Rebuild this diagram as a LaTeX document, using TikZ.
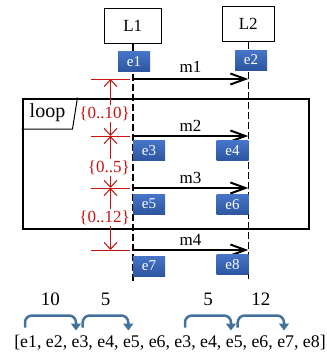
\documentclass[tikz,border=0pt]{standalone}
\usepackage{fontspec}
\setmainfont{Liberation Serif}
\usetikzlibrary{arrows.meta}
\definecolor{redx}{RGB}{200,20,20}
\definecolor{evtop}{RGB}{70,117,200}
\definecolor{evbot}{RGB}{45,85,160}
\definecolor{jmpblue}{RGB}{65,113,156}
\begin{document}
\begin{tikzpicture}[
	x=1pt, y=-1pt,
	font=\fontsize{17}{19}\selectfont,
	ll/.style={draw, line width=1.3pt, minimum width=57pt, minimum height=35pt, inner sep=0pt},
	life/.style={dash pattern=on 7pt off 3pt, line width=1.2pt},
	ev/.style={top color=evtop, bottom color=evbot, text=white, minimum width=32pt, minimum height=20pt, inner sep=0pt, font=\fontsize{15}{17}\selectfont},
	msg/.style={line width=2pt, -{Straight Barb[length=15pt,width=11pt]}},
	tk/.style={draw=redx, line width=1pt},
	dim/.style={redx, line width=1pt, -{Straight Barb[length=7pt,width=13pt]}},
	dl/.style={text=redx, fill=white, inner sep=1.5pt, anchor=east},
	jmp/.style={jmpblue, line width=2.5pt, rounded corners=7pt, -{Triangle[length=7pt,width=10pt]}},
	jl/.style={text=black, font=\fontsize{19}{21}\selectfont},
	]
\useasboundingbox (0,0) rectangle (327,354);
% lifelines
\node [ll] (L1) at (132.7,25.8) {L1};
\node [ll, minimum width=52pt] (L2) at (248.3,24.2) {L2};
\coordinate (L1end) at (132.7,281);
\coordinate (L2end) at (248.3,281);
\draw [life, line width=1.6pt] (L1.south) -- (L1end);
\draw [life] (L2.south) -- (L2end);
% loop frame
\node [draw, line width=2pt, minimum width=286pt, minimum height=130pt, inner sep=0pt] (frame) at (165.5,163.5) {};
\draw [line width=1pt] ([xshift=56pt]frame.north west) -- ([xshift=51pt,yshift=-31.5pt]frame.north west) -- ([yshift=-31.5pt]frame.north west);
\node [font=\fontsize{20}{22}\selectfont] (looplab) at ([xshift=26pt,yshift=-15.5pt]frame.north west) {loop};
% messages
\foreach \i/\y in {1/79,2/136,3/188,4/250} {
	\coordinate (s\i) at (132.7,\y);
	\coordinate (r\i) at (248.3,\y);
}
\draw [msg] (s1) -- node [above=2.5pt] {m1} (r1);
\draw [msg] (s2) -- node [above=0pt] {m2} (r2);
\draw [msg] (s3) -- node [above=0pt] {m3} (r3);
\draw [msg] (s4) -- node [above=0pt] {m4} (r4);
% events
\node [ev] (e1) at (134,61.7) {e1};
\node [ev] (e2) at (251,60) {e2};
\node [ev] (e3) at (149,150.5) {e3};
\node [ev] (e4) at (232.5,150.8) {e4};
\node [ev] (e5) at (149,204) {e5};
\node [ev] (e6) at (232.5,204.5) {e6};
\node [ev] (e7) at (149,266) {e7};
\node [ev] (e8) at (232.5,264.5) {e8};
% durations
\coordinate (t1) at (110.5,79);
\coordinate (t2) at (110.5,136);
\coordinate (t3) at (110.5,188);
\coordinate (t4) at (110.5,250);
\foreach \t in {t1,t2,t3,t4}
	\draw [tk] ([xshift=-19.5pt]\t) -- ([xshift=19.5pt]\t);
\node [dl] (d1) at (131.5,113.5) {\{0..10\}};
\node [dl] (d2) at (131.5,167.5) {\{0..5\}};
\node [dl] (d3) at (131.5,217.5) {\{0..12\}};
\draw [dim] (d1.north -| t1) -- (t1);
\draw [dim] (d1.south -| t1) -- (t2);
\draw [dim] (d2.north -| t2) -- (t2);
\draw [dim] (d2.south -| t2) -- (t3);
\draw [dim] (d3.north -| t3) -- (t3);
\draw [dim] (d3.south -| t3) -- (t4);
% trace
\node [anchor=base, font=\fontsize{17.8}{20}\selectfont] (seq) at (170,347.5) {[e1, e2, e3, e4, e5, e6, e3, e4, e5, e6, e7, e8]};
\coordinate (j1a) at (25,327.5);
\coordinate (j1b) at (76,330.5);
\coordinate (j2a) at (82.7,327.5);
\coordinate (j2b) at (128.3,330.5);
\coordinate (j3a) at (185,327.5);
\coordinate (j3b) at (231,330.5);
\coordinate (j4a) at (237.7,327.5);
\coordinate (j4b) at (284,330.5);
\draw [jmp] (j1a) -- ++(0,-12) -| node [jl, pos=0.25, above=5pt] {10} (j1b);
\draw [jmp] (j2a) -- ++(0,-12) -| node [jl, pos=0.25, above=5pt] {5} (j2b);
\draw [jmp] (j3a) -- ++(0,-12) -| node [jl, pos=0.25, above=5pt] {5} (j3b);
\draw [jmp] (j4a) -- ++(0,-12) -| node [jl, pos=0.25, above=5pt] {12} (j4b);
\end{tikzpicture}
\end{document}
